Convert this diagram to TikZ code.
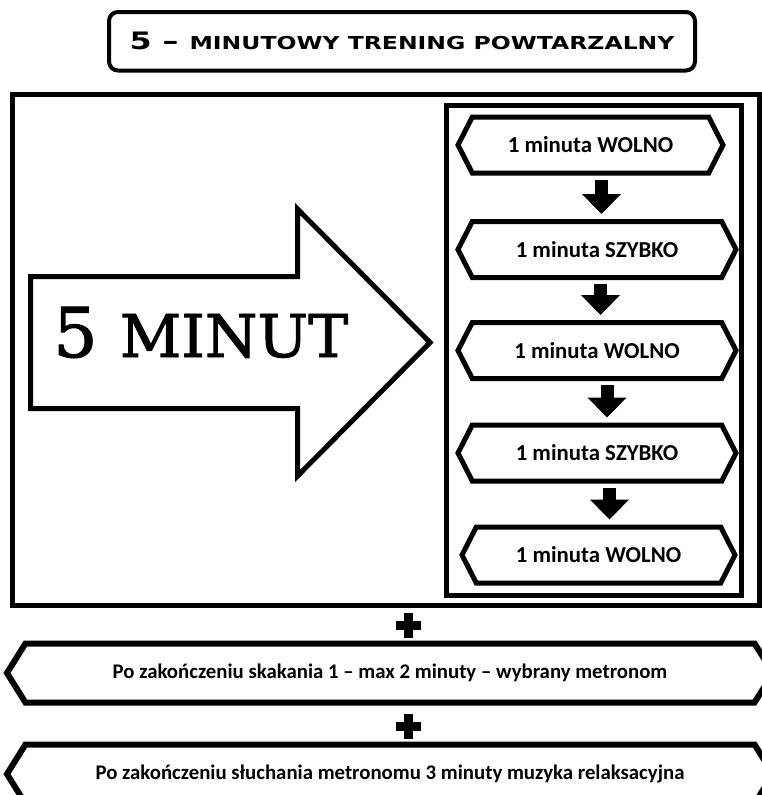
\documentclass[tikz,border=0pt]{standalone}
\usepackage{fontspec}
\usepackage{graphicx}
\usetikzlibrary{arrows.meta,positioning,shapes.symbols,calc}
\newfontfamily\calibri{Carlito}
\newfontfamily\titlefont{DejaVu Sans}
\newfontfamily\bigfont[FakeBold=1.6]{DejaVu Serif}

\tikzset{
  minbox/.style={signal, signal to=west and east, signal pointer angle=126, draw, line width=5pt,
    fill=white, minimum width=278pt, minimum height=56pt, inner sep=0pt,
    font=\calibri\bfseries\fontsize{22.8}{22.8}\selectfont},
  endbox/.style={signal, signal to=west and east, signal pointer angle=116, draw, line width=6pt,
    fill=white, minimum width=766pt, minimum height=59pt, inner sep=0pt,
    font=\calibri\bfseries\fontsize{20.8}{20.8}\selectfont},
  downarrow/.style={line width=13pt, -{Triangle[length=20pt,width=38pt]}, shorten <=4pt, shorten >=5pt},
}

\begin{document}
\begin{tikzpicture}[x=1pt,y=-1pt]
  \useasboundingbox (0,0) rectangle (762,795);
  % title
  \node[draw, line width=4pt, rounded corners=9pt, minimum width=586pt, minimum height=58.5pt, inner sep=0pt] (title) at (402,41.25)
    {\titlefont\bfseries\resizebox{545pt}{\height}{\fontsize{24}{24}\selectfont 5 – \fontsize{17.8}{17.8}\selectfont MINUTOWY TRENING POWTARZALNY}};

  % frame and inner column
  \node[draw, line width=5pt, minimum width=747.5pt, minimum height=511pt, inner sep=0pt] (frame) at (385.75,350) {};
  \node[draw, line width=5.5pt, minimum width=295pt, minimum height=490pt, inner sep=0pt] (column) at (594,350.5) {};

  % big arrow
  \draw[line width=5pt, line join=miter] (30.5,276.5) -- (297.5,276.5) -- (297.5,209) -- (430,342.5)
    -- (297.5,476) -- (297.5,408.5) -- (30.5,408.5) -- cycle;
  \node[anchor=base west, inner sep=0pt] (fivemin) at (53,357)
    {\bigfont\resizebox{295pt}{\height}{\fontsize{68.6}{68.6}\selectfont 5 \fontsize{59}{59}\selectfont MINUT}};

  % steps
  \node[minbox, minimum width=265pt] (m1) at (590.5,145) {1 minuta WOLNO};
  \node[minbox] (m2) at (597,249.5) {1 minuta SZYBKO};
  \node[minbox] (m3) at (597,350.5) {1 minuta WOLNO};
  \node[minbox] (m4) at (597,453) {1 minuta SZYBKO};
  \node[minbox, minimum width=273pt] (m5) at (598.5,555) {1 minuta WOLNO};

  \draw[downarrow] ([xshift=11pt]m1.south) -- ([xshift=4.5pt]m2.north);
  \draw[downarrow] ([xshift=3.5pt]m2.south) -- ([xshift=3.5pt]m3.north);
  \draw[downarrow] ([xshift=10pt]m3.south) -- ([xshift=10pt]m4.north);
  \draw[downarrow] ([xshift=12.5pt]m4.south) -- ([xshift=11pt]m5.north);

  % after the training
  \node[endbox] (after1) at (390,673) {Po zakończeniu skakania 1 – max 2 minuty – wybrany metronom};
  \node[endbox] (after2) at (390,774) {Po zakończeniu słuchania metronomu 3 minuty muzyka relaksacyjna};

  \foreach \py in {625.5,726}
    \draw[line width=9pt] (408,\py-12.5) -- (408,\py+12.5) (395.5,\py) -- (420.5,\py);
\end{tikzpicture}
\end{document}
